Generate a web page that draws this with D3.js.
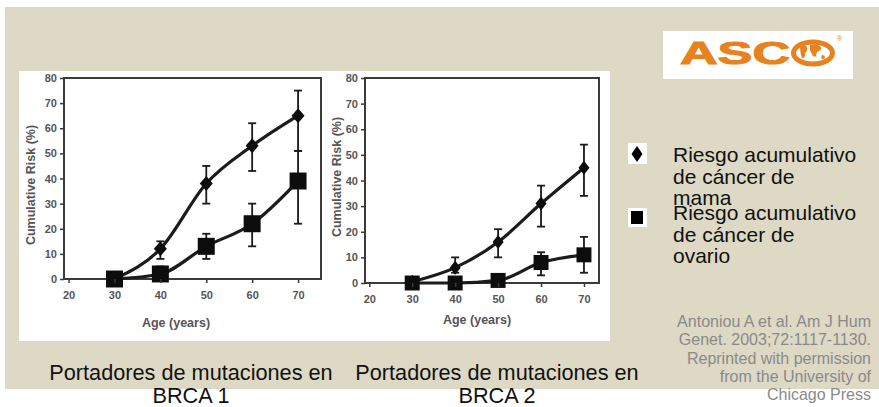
<!DOCTYPE html>
<html>
<head>
<meta charset="utf-8">
<script src="https://cdn.jsdelivr.net/npm/d3@7"></script>
<style>
  body { margin: 0; background: #fff; }
  svg { display: block; font-family: "Liberation Sans", Arial, sans-serif; }
</style>
</head>
<body>
<script>
// ages on the x axis
const ages = [30, 40, 50, 60, 70];
const xTicks = [20, 30, 40, 50, 60, 70];
const yTicks = [0, 10, 20, 30, 40, 50, 60, 70, 80];

// BRCA1 carriers
const brca1Breast   = [0, 12, 38, 53, 65];
const brca1BreastLo = [0, 8, 30, 43, 51];
const brca1BreastHi = [0, 15, 45, 62, 75];
const brca1Ovary    = [0, 2, 13, 22, 39];
const brca1OvaryLo  = [0, 0, 8, 13, 22];
const brca1OvaryHi  = [0, 5, 18, 30, 51];

// BRCA2 carriers
const brca2Breast   = [0.5, 6, 16, 31, 45];
const brca2BreastLo = [0, 4, 10, 22, 34];
const brca2BreastHi = [0, 10, 21, 38, 54];
const brca2Ovary    = [0, 0, 1, 8, 11];
const brca2OvaryLo  = [0, 0, 0, 3, 4];
const brca2OvaryHi  = [0, 0, 2, 12, 18];

const legendLabels = [
  ["Riesgo acumulativo", "de cáncer de", "mama"],
  ["Riesgo acumulativo", "de cáncer de", "ovario"]
];
const captions = [
  ["Portadores de mutaciones en", "BRCA 1"],
  ["Portadores de mutaciones en", "BRCA 2"]
];
const citation = [
  "Antoniou A et al. Am J Hum",
  "Genet. 2003;72:1117-1130.",
  "Reprinted with permission",
  "from the University of",
  "Chicago Press"
];

const W = 879, H = 407;
const svg = d3.select("body").append("svg").attr("width", W).attr("height", H);

const defs = svg.append("defs");
defs.append("filter").attr("id", "soft")
  .append("feGaussianBlur").attr("stdDeviation", 0.6);

// slide background
svg.append("rect").attr("x", 5).attr("y", 7).attr("width", W - 5).attr("height", 382)
  .attr("fill", "#ddd9c4");

// white picture holding both plots
svg.append("rect").attr("x", 19).attr("y", 71).attr("width", 591).attr("height", 270)
  .attr("fill", "#fff");

function zip(vals, lo, hi) {
  return ages.map((a, i) => ({ age: a, v: vals[i], lo: lo[i], hi: hi[i] }));
}

function drawPanel(p) {
  const x = d3.scaleLinear().domain(p.xDomain).range([p.left, p.right]);
  const y = d3.scaleLinear().domain([0, 80]).range([p.bottom, p.top]);
  const g = svg.append("g");
  const marks = g.append("g").attr("filter", "url(#soft)");

  // frame
  marks.append("rect")
    .attr("x", p.left).attr("y", p.top)
    .attr("width", p.right - p.left).attr("height", p.bottom - p.top)
    .attr("fill", "none").attr("stroke", "#3a3a3a").attr("stroke-width", 2);

  const ya = g.append("g").attr("transform", `translate(${p.left},0)`)
    .call(d3.axisLeft(y).tickValues(yTicks).tickSize(4).tickPadding(3));
  const xa = g.append("g").attr("transform", `translate(0,${p.bottom})`)
    .call(d3.axisBottom(x).tickValues(xTicks).tickSize(4).tickPadding(8));
  [ya, xa].forEach(a => {
    a.select(".domain").remove();
    a.selectAll("line").attr("stroke", "#3a3a3a").attr("stroke-width", 1.5);
    a.selectAll("text").attr("fill", "#555").attr("font-size", 11)
      .attr("font-weight", "bold").attr("font-family", "Liberation Sans, Arial, sans-serif");
  });

  g.append("text").attr("transform", `translate(${p.yTitleX},${p.yTitleY}) rotate(-90)`)
    .attr("text-anchor", "middle").attr("dy", "0.35em")
    .attr("font-size", 12.5).attr("font-weight", "bold").attr("fill", "#555")
    .text("Cumulative Risk (%)");
  g.append("text").attr("x", p.xTitleX).attr("y", p.xTitleY)
    .attr("text-anchor", "middle").attr("dy", "0.35em")
    .attr("font-size", 12.5).attr("font-weight", "bold").attr("fill", "#555")
    .text("Age (years)");

  const line = d3.line().x(d => x(d.age)).y(d => y(d.v)).curve(d3.curveMonotoneX);

  p.series.forEach(s => {
    marks.append("path").datum(s.data).attr("d", line)
      .attr("fill", "none").attr("stroke", "#1a1a1a").attr("stroke-width", 3.2);

    const eb = marks.selectAll(null).data(s.data.filter(d => d.hi - d.lo >= 1)).enter().append("g");
    eb.append("line").attr("x1", d => x(d.age)).attr("x2", d => x(d.age))
      .attr("y1", d => y(d.lo)).attr("y2", d => y(d.hi))
      .attr("stroke", "#1a1a1a").attr("stroke-width", 1.8);
    ["lo", "hi"].forEach(k => {
      eb.append("line").attr("x1", d => x(d.age) - 4).attr("x2", d => x(d.age) + 4)
        .attr("y1", d => y(d[k])).attr("y2", d => y(d[k]))
        .attr("stroke", "#1a1a1a").attr("stroke-width", 1.8);
    });

    marks.selectAll(null).data(s.data).enter().append("path")
      .attr("transform", d => `translate(${x(d.age)},${y(d.v)})`)
      .attr("d", s.shape === "diamond"
        ? `M0,${-p.dH} L${p.dW},0 L0,${p.dH} L${-p.dW},0Z`
        : `M${-p.sq},${-p.sq}H${p.sq}V${p.sq}H${-p.sq}Z`)
      .attr("fill", "#111");
  });
}

drawPanel({
  left: 64, right: 321, top: 78, bottom: 279, xDomain: [19, 75],
  yTitleX: 31, yTitleY: 185, xTitleX: 176, xTitleY: 323,
  dW: 6.5, dH: 7.5, sq: 8.5,
  series: [
    { shape: "diamond", data: zip(brca1Breast, brca1BreastLo, brca1BreastHi) },
    { shape: "square", data: zip(brca1Ovary, brca1OvaryLo, brca1OvaryHi) }
  ]
});
drawPanel({
  left: 365, right: 599, top: 78, bottom: 283, xDomain: [19, 73.5],
  yTitleX: 337, yTitleY: 177, xTitleX: 477, xTitleY: 320,
  dW: 5.5, dH: 7, sq: 7.5,
  series: [
    { shape: "diamond", data: zip(brca2Breast, brca2BreastLo, brca2BreastHi) },
    { shape: "square", data: zip(brca2Ovary, brca2OvaryLo, brca2OvaryHi) }
  ]
});

// ASCO logo
const logo = svg.append("g");
const orange = "#e8821e";
logo.append("rect").attr("x", 663).attr("y", 31).attr("width", 190).attr("height", 48).attr("fill", "#fff");
logo.append("text").attr("x", 680).attr("y", 64)
  .attr("font-size", 32).attr("font-weight", "bold").attr("fill", orange)
  .attr("stroke", orange).attr("stroke-width", 1)
  .attr("textLength", 110).attr("lengthAdjust", "spacingAndGlyphs")
  .text("ASC");
logo.append("ellipse").attr("cx", 813).attr("cy", 53).attr("rx", 19.5).attr("ry", 11)
  .attr("fill", "#fff").attr("stroke", orange).attr("stroke-width", 5);
logo.append("path").attr("fill", orange)
  .attr("d", "M800,47 q4,-4 7,0 q1,4 -2,6 q1,5 -3,5 q-2,-5 -2,-11Z M810,45 q6,-2 10,1 q3,3 -1,5 q-3,1 -3,5 q-3,2 -4,-2 q-3,-4 -2,-9Z M822,55 q3,0 3,3 q-2,2 -4,0Z");
logo.append("text").attr("x", 837).attr("y", 41).attr("font-size", 7).attr("fill", orange).text("®");

// legend
const legend = svg.append("g");
legend.append("rect").attr("x", 628).attr("y", 143).attr("width", 19).attr("height", 21).attr("fill", "#fff");
legend.append("path").attr("d", "M637,146 L642.5,154 L637,162 L631.5,154Z").attr("fill", "#000");
legend.append("rect").attr("x", 628).attr("y", 208).attr("width", 19).attr("height", 19).attr("fill", "#fff");
legend.append("rect").attr("x", 631).attr("y", 211).attr("width", 12).attr("height", 13).attr("fill", "#000");
const legendTops = [162, 220];
legendLabels.forEach((lines, i) => {
  const t = legend.append("text").attr("x", 673).attr("y", legendTops[i])
    .attr("font-size", 21).attr("fill", "#111");
  lines.forEach((s, j) => t.append("tspan").attr("x", 673).attr("dy", j ? 21.5 : 0).text(s));
});

// captions under the plots
const captionX = [191, 497];
captions.forEach((lines, i) => {
  const t = svg.append("text").attr("x", captionX[i]).attr("y", 380)
    .attr("text-anchor", "middle").attr("font-size", 21.7).attr("fill", "#111");
  lines.forEach((s, j) => t.append("tspan").attr("x", captionX[i]).attr("dy", j ? 23 : 0).text(s));
});

// citation
const cite = svg.append("text").attr("x", 871).attr("y", 327)
  .attr("text-anchor", "end").attr("font-size", 16).attr("fill", "#8a8a8a");
citation.forEach((s, j) => cite.append("tspan").attr("x", 871).attr("dy", j ? 18.3 : 0).text(s));
</script>
</body>
</html>
